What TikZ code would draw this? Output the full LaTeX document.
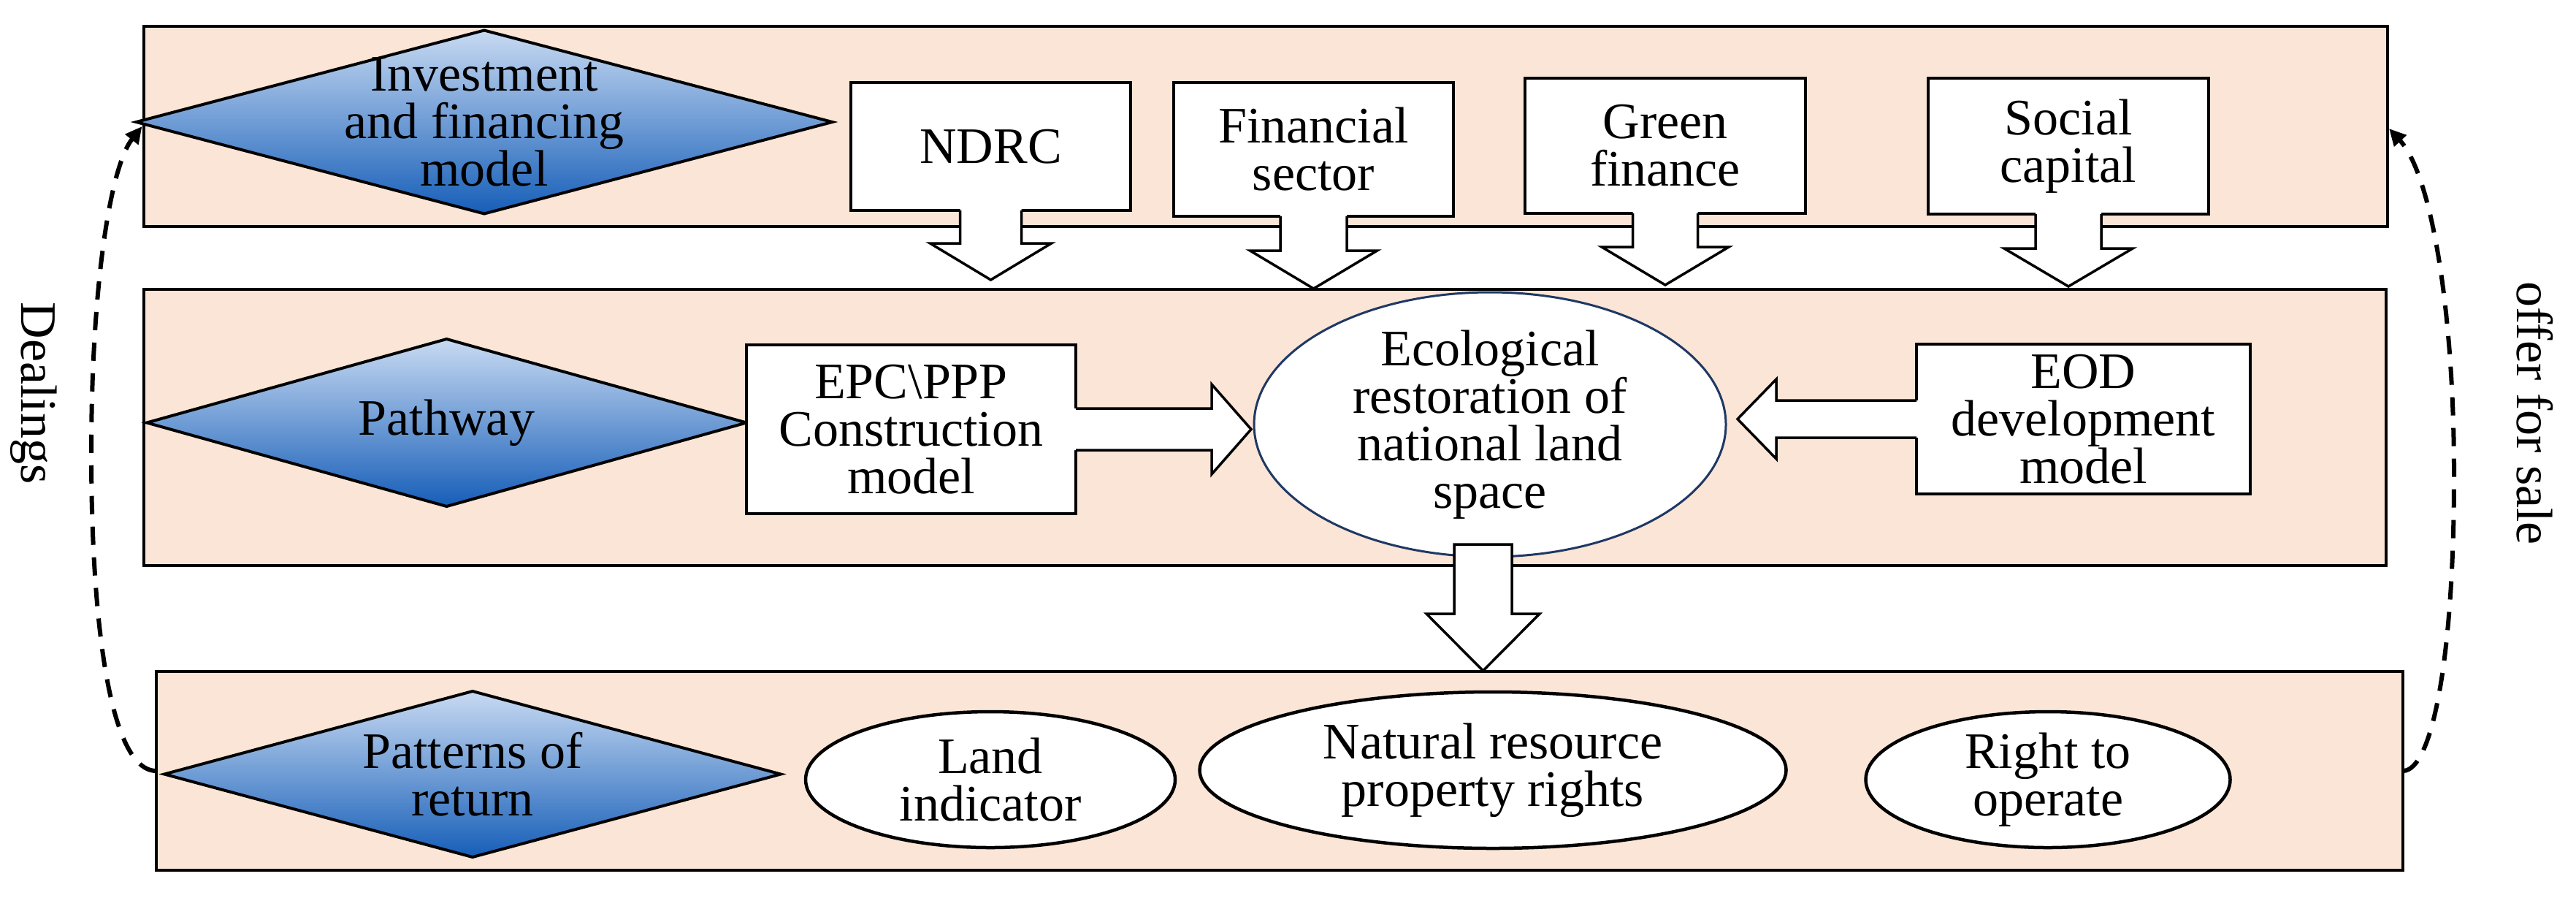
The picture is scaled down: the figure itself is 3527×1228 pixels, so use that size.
\documentclass[tikz,border=0pt]{standalone}
\usepackage{fontspec}
\setmainfont{Liberation Serif}
\usetikzlibrary{shapes.geometric,arrows.meta,calc}
\definecolor{peach}{RGB}{251,229,214}
\definecolor{dtop}{RGB}{200,218,242}
\definecolor{dbot}{RGB}{22,94,184}
\definecolor{navyline}{RGB}{31,56,100}
% down block arrow under a node: name, shaft half, head half, shaft length, head length
\newcommand\dnarr[5]{%
  \fill[white] ($(#1.south)+(-#2,-4)$) -- ++(0,#4+4) -- ++(#2-#3,0) -- ++(#3,#5) -- ++(#3,-#5) -- ++(#2-#3,0) -- ++(0,-#4-4) -- cycle;
  \draw[blk] ($(#1.south)+(-#2,0)$) -- ++(0,#4) -- ++(#2-#3,0) -- ++(#3,#5) -- ++(#3,-#5) -- ++(#2-#3,0) -- ++(0,-#4);}
\newcommand\rtarr[5]{%
  \fill[white] ($(#1.east)+(-4,-#2)$) -- ++(#4+4,0) -- ++(0,#2-#3) -- ++(#5,#3) -- ++(-#5,#3) -- ++(0,#2-#3) -- ++(-#4-4,0) -- cycle;
  \draw[blk] ($(#1.east)+(0,-#2)$) -- ++(#4,0) -- ++(0,#2-#3) -- ++(#5,#3) -- ++(-#5,#3) -- ++(0,#2-#3) -- ++(-#4,0);}
\newcommand\ltarr[5]{%
  \fill[white] ($(#1.west)+(4,-#2)$) -- ++(-#4-4,0) -- ++(0,#2-#3) -- ++(-#5,#3) -- ++(#5,#3) -- ++(0,#2-#3) -- ++(#4+4,0) -- cycle;
  \draw[blk] ($(#1.west)+(0,-#2)$) -- ++(-#4,0) -- ++(0,#2-#3) -- ++(-#5,#3) -- ++(#5,#3) -- ++(0,#2-#3) -- ++(#4,0);}
\begin{document}
\begin{tikzpicture}[x=0.2pt,y=-0.2pt,
  every node/.style={font=\fontsize{14}{13}\selectfont, inner sep=0pt, outer sep=0pt},
  band/.style={rectangle, draw=black, fill=peach, line width=0.8pt},
  dia/.style={diamond, draw=black, line width=0.8pt, top color=dtop, bottom color=dbot, shading angle=0},
  box/.style={rectangle, draw=black, fill=white, line width=0.9pt, align=center},
  ell/.style={ellipse, draw=black, fill=white, line width=0.9pt},
  txt/.style={align=center, text=black},
  blk/.style={draw=black, line width=0.7pt, line join=miter},
  deal/.style={line width=1.2pt, dash pattern=on 5pt off 3.4pt, -{Triangle[length=4.6pt,width=4.4pt]}}]
\useasboundingbox (0,0) rectangle (3527,1228);
% bands
\node[band, minimum width=614.4pt, minimum height=54.8pt] (top) at (1733,173) {};
\node[band, minimum width=614pt, minimum height=75.6pt] (mid) at (1732,585) {};
\node[band, minimum width=615.2pt, minimum height=54.4pt] (bot) at (1752,1055) {};
% diamonds
\node[dia, minimum width=190.6pt, minimum height=50.2pt] (inv) at (663,167) {};
\node[txt] (invt) at (inv.center) {Investment\\and financing\\model};
\node[dia, minimum width=164.2pt, minimum height=45.8pt] (path) at (611.5,578.5) {};
\node[txt] (patht) at (path.center) {Pathway};
\node[dia, minimum width=168.8pt, minimum height=45.4pt] (pat) at (647,1059.5) {};
\node[txt] (patt) at (pat.center) {Patterns of\\return};
% top boxes
\node[box, minimum width=76.6pt, minimum height=35pt] (ndrc) at (1356.5,200.5) {NDRC};
\node[box, minimum width=76.6pt, minimum height=36.6pt] (fin) at (1798.5,204.5) {Financial\\sector};
\node[box, minimum width=76.8pt, minimum height=37pt] (green) at (2280,199.5) {Green\\finance};
\node[box, minimum width=76.8pt, minimum height=37.2pt] (soc) at (2832,200) {Social\\capital};
% middle row
\node[box, minimum width=90.2pt, minimum height=46.2pt] (epc) at (1247.5,587.5) {EPC\textbackslash PPP\\Construction\\model};
\node[box, minimum width=91.4pt, minimum height=41pt] (eod) at (2852.5,573.5) {EOD\\development\\model};
\node[ell, draw=navyline, line width=0.6pt, minimum width=129.2pt, minimum height=72.4pt] (eco) at (2040,581) {};
\node[txt] (ecot) at (eco.center) {Ecological\\restoration of\\national land\\space};
% bottom ellipses
\node[ell, minimum width=101.2pt, minimum height=37.2pt] (land) at (1356,1067) {};
\node[txt] (landt) at (land.center) {Land\\indicator};
\node[ell, minimum width=160.6pt, minimum height=42.8pt] (nat) at (2044,1054) {};
\node[txt] (natt) at (nat.center) {Natural resource\\property rights};
\node[ell, minimum width=99.8pt, minimum height=37.2pt] (right) at (2804,1067) {};
\node[txt] (rightt) at (right.center) {Right to\\operate};
% block arrows
\dnarr{ndrc}{42}{83}{45}{50}
\dnarr{fin}{45.5}{87}{47}{52}
\dnarr{green}{44.5}{87}{46}{52}
\dnarr{soc}{45}{88}{47}{52}
\rtarr{epc}{28.5}{61.5}{186}{54}
\ltarr{eod}{25.5}{54.5}{192}{53}
\coordinate (ecoarr) at ($(eco.south)+(-9.5,-17)$);
\draw[blk, fill=white] ($(ecoarr)+(-39.5,0)$) -- ++(0,95) -- ++(-38,0) -- ++(77.5,78) -- ++(77.5,-78) -- ++(-38,0) -- ++(0,-95) -- cycle;
% dashed return loops
\coordinate (dl1) at (125,620);
\coordinate (dealend) at ($(inv.west)+(8,6)$);
\draw[deal] (bot.west) .. controls +(-64,0) and +(0,230) .. (dl1) .. controls +(0,-220) and +(-45,57) .. (dealend);
\coordinate (dr1) at (3360,650);
\coordinate (offerend) at ($(top.east)+(2,3)$);
\draw[deal] (bot.east) .. controls +(40,0) and +(0,250) .. (dr1) .. controls +(0,-220) and +(59,64) .. (offerend);
\node[txt, rotate=-90] (dealt) at (46,538) {Dealings};
\node[txt, rotate=-90] (offert) at (3471,566) {offer for sale};
\end{tikzpicture}
\end{document}
